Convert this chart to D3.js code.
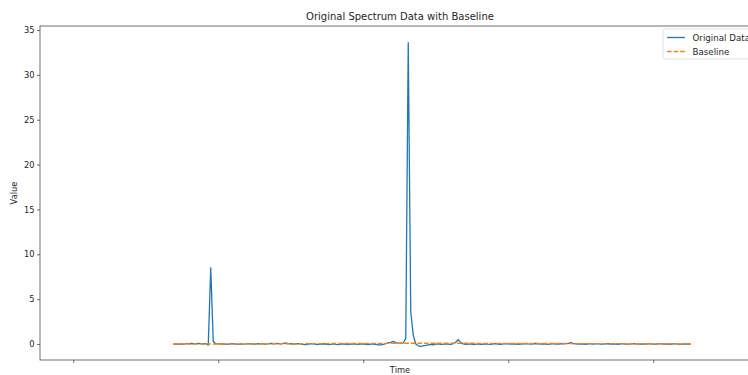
<!DOCTYPE html>
<html lang="en">
    <head>
        <meta charset="utf-8">
        <title>Original Spectrum Data with Baseline</title>
        <script type="text/javascript" src="https://cdn.jsdelivr.net/npm/d3@7"></script>
        <style>
            body { margin: 0; background: #fff; }
            svg text { font-family: "DejaVu Sans", sans-serif; fill: #262626; }
        </style>
    </head>
    <body>
        <div id="chart"></div>
        <script type="text/javascript">
            // 数据: 原始光谱 (时间为采样序号)
            var startTime = 40;
            var values = [
                0.00, 0.01, -0.01, 0.02, 0.00, 0.02, 0.04, 0.06, 0.03, 0.05,
                0.08, 0.04, 0.02, 0.03, -0.12, 8.50, 0.30, 0.04, 0.01, -0.02,
                0.02, 0.00, -0.03, 0.01, 0.03, -0.02, 0.00, 0.02, -0.01, 0.01,
                0.04, 0.02, -0.02, 0.00, 0.03, 0.05, 0.02, -0.01, 0.04, 0.06,
                0.03, 0.07, 0.05, 0.02, 0.08, 0.10, 0.06, 0.03, -0.02, 0.01,
                0.05, 0.03, -0.04, -0.06, -0.02, 0.02, 0.04, -0.03, -0.05, 0.00,
                0.03, -0.02, -0.06, -0.03, 0.01, -0.04, -0.07, -0.02, 0.02, -0.03,
                -0.05, -0.01, 0.03, 0.00, -0.04, -0.02, 0.01, -0.03, -0.06, -0.02,
                0.00, -0.04, -0.08, -0.10, -0.05, 0.05, 0.12, 0.18, 0.30, 0.15,
                0.06, 0.10, 0.12, 0.60, 33.60, 3.60, 1.00, 0.00, -0.20, -0.25,
                -0.20, -0.15, -0.10, -0.05, -0.08, -0.02, 0.02, -0.04, -0.01, 0.03,
                0.00, -0.03, 0.05, 0.20, 0.50, 0.15, 0.02, -0.04, -0.02, 0.01,
                -0.05, -0.02, 0.02, -0.03, 0.00, 0.03, -0.02, -0.04, 0.01, 0.03,
                0.00, -0.03, 0.02, 0.04, 0.01, -0.02, 0.03, 0.00, -0.04, -0.01,
                0.02, 0.05, 0.01, -0.02, 0.03, 0.06, 0.02, -0.01, 0.03, 0.00,
                -0.03, 0.02, 0.04, 0.00, -0.02, 0.03, 0.01, 0.05, 0.08, 0.15,
                0.06, 0.01, -0.02, 0.02, 0.00, -0.03, 0.01, 0.03, -0.01, 0.02,
                0.04, 0.00, -0.02, 0.01, 0.03, -0.01, 0.02, 0.00, -0.03, 0.01,
                0.03, 0.00, -0.02, 0.02, 0.04, 0.01, -0.01, 0.02, 0.00, -0.02,
                0.01, 0.03, 0.00, -0.02, 0.02, 0.01, -0.01, 0.02, 0.00, -0.03,
                0.01, 0.02, -0.01, 0.00, 0.02, -0.02, 0.01, 0.00
            ];
            // 基线
            var baselineTime = [40, 60, 80, 100, 120, 140, 160, 180, 200, 220, 240, 247];
            var baselineValues = [0.00, 0.01, 0.03, 0.05, 0.07, 0.09, 0.08, 0.06, 0.05, 0.04, 0.03, 0.03];
            // 刻度 (x 轴刻度无标签)
            var xTicks = [0, 58, 116, 174, 232];
            var yTicks = [0, 5, 10, 15, 20, 25, 30, 35];
            var seriesNames = ["Original Data", "Baseline"];
            var seriesColors = ["#1f77b4", "#ff7f0e"];

            var w = 748;
            var h = 375;
            // 绘图区边界 (右侧超出画布)
            var plotL = 40, plotR = 760, plotT = 26, plotB = 360;

            var svg = d3.select("#chart")
                        .append("svg")
                        .attr("width", w)
                        .attr("height", h);

            var xScale = d3.scaleLinear()
                           .domain([-13.3, 274.7])
                           .range([plotL, plotR]);
            var yScale = d3.scaleLinear()
                           .domain([-1.78, 35.45])
                           .range([plotB, plotT]);

            var points = values.map(function(v, i) { return [startTime + i, v]; });
            var basePoints = baselineTime.map(function(t, i) { return [t, baselineValues[i]]; });

            var line = d3.line()
                         .x(function(d) { return xScale(d[0]); })
                         .y(function(d) { return yScale(d[1]); });

            // 曲线
            svg.append("path")
               .datum(points)
               .attr("fill", "none")
               .attr("stroke", seriesColors[0])
               .attr("stroke-width", 1.3)
               .attr("stroke-linejoin", "round")
               .attr("d", line);
            svg.append("path")
               .datum(basePoints)
               .attr("fill", "none")
               .attr("stroke", seriesColors[1])
               .attr("stroke-width", 1.4)
               .attr("stroke-dasharray", "4.6,2")
               .attr("d", line);

            // 坐标轴
            var xAxis = d3.axisBottom(xScale)
                          .tickValues(xTicks)
                          .tickFormat("")
                          .tickSize(3)
                          .tickSizeOuter(0);
            var yAxis = d3.axisLeft(yScale)
                          .tickValues(yTicks)
                          .tickSize(3)
                          .tickPadding(2.5)
                          .tickSizeOuter(0);
            svg.append("g")
               .attr("class", "axis")
               .attr("transform", "translate(0," + plotB + ")")
               .call(xAxis);
            svg.append("g")
               .attr("class", "axis")
               .attr("transform", "translate(" + plotL + ",0)")
               .call(yAxis);
            svg.selectAll(".axis text")
               .attr("font-size", 8.3)
               .style("font-family", "DejaVu Sans, sans-serif")
               .attr("fill", "#262626");
            svg.selectAll(".axis line").attr("stroke", "#333").attr("stroke-width", 0.7);
            svg.selectAll(".axis path").attr("stroke", "none");

            // 边框
            svg.append("rect")
               .attr("x", plotL)
               .attr("y", plotT)
               .attr("width", plotR - plotL)
               .attr("height", plotB - plotT)
               .attr("fill", "none")
               .attr("stroke", "#333")
               .attr("stroke-width", 0.7);

            // 标题和轴标签
            svg.append("text")
               .attr("x", (plotL + plotR) / 2)
               .attr("y", 20)
               .attr("text-anchor", "middle")
               .attr("font-size", 10)
               .text("Original Spectrum Data with Baseline");
            svg.append("text")
               .attr("x", (plotL + plotR) / 2)
               .attr("y", 373)
               .attr("text-anchor", "middle")
               .attr("font-size", 8.3)
               .text("Time");
            svg.append("text")
               .attr("transform", "translate(17," + (plotT + plotB) / 2 + ") rotate(-90)")
               .attr("text-anchor", "middle")
               .attr("font-size", 8.3)
               .text("Value");

            // 图例
            var legend = svg.append("g").attr("transform", "translate(663,29)");
            legend.append("rect")
                  .attr("width", 95)
                  .attr("height", 30)
                  .attr("rx", 2)
                  .attr("fill", "#fff")
                  .attr("fill-opacity", 0.8)
                  .attr("stroke", "#d6d6d6")
                  .attr("stroke-width", 0.7);
            seriesNames.forEach(function(name, i) {
                var y = 8.5 + i * 14;
                legend.append("line")
                      .attr("x1", 4).attr("x2", 22)
                      .attr("y1", y).attr("y2", y)
                      .attr("stroke", seriesColors[i])
                      .attr("stroke-width", 1.3)
                      .attr("stroke-dasharray", i === 1 ? "4.6,2" : null);
                legend.append("text")
                      .attr("x", 29.5)
                      .attr("y", y + 3)
                      .attr("font-size", 8.7)
                      .text(name);
            });
        </script>
    </body>
</html>
